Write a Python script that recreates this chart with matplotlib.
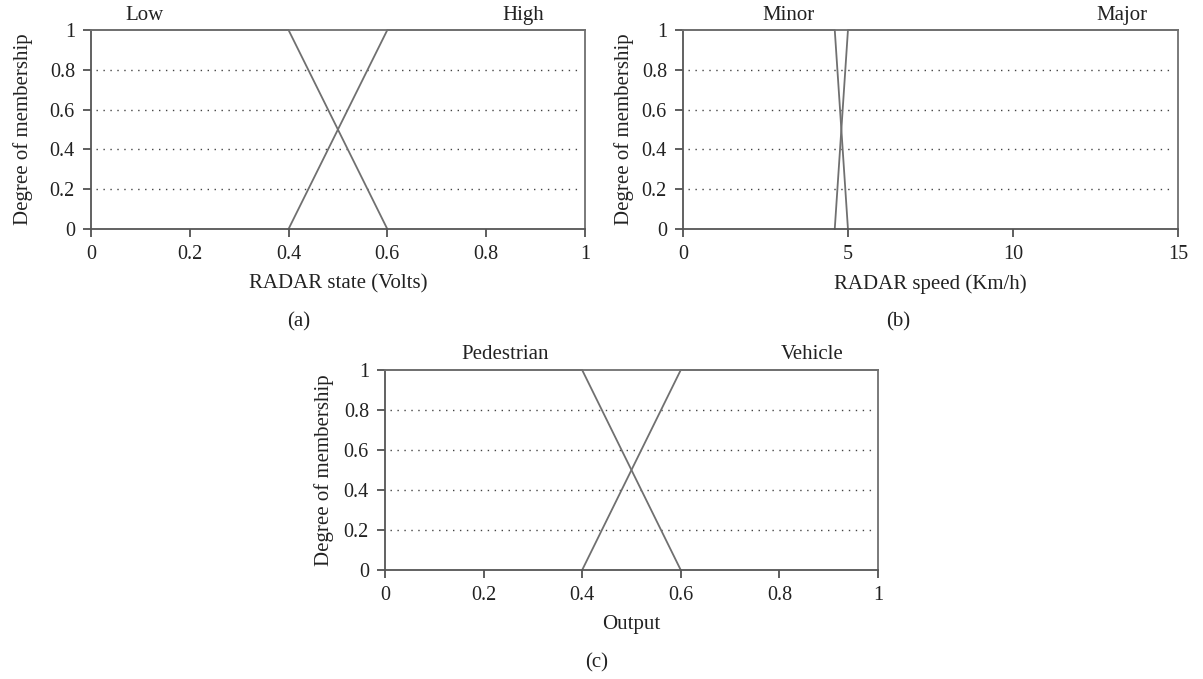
import matplotlib
matplotlib.use('Agg')
import matplotlib.pyplot as plt

# membership functions (x points, degree)
state_low_x = [0, 0.4, 0.6]
state_low_y = [1, 1, 0]
state_high_x = [0.4, 0.6, 1]
state_high_y = [0, 1, 1]

speed_minor_x = [0, 4.6, 5.0]
speed_minor_y = [1, 1, 0]
speed_major_x = [4.6, 5.0, 15]
speed_major_y = [0, 1, 1]

out_ped_x = [0, 0.4, 0.6]
out_ped_y = [1, 1, 0]
out_veh_x = [0.4, 0.6, 1]
out_veh_y = [0, 1, 1]

y_ticks = [0, 0.2, 0.4, 0.6, 0.8, 1]
y_labels = ['0', '0.2', '0.4', '0.6', '0.8', '1']
unit_ticks = [0, 0.2, 0.4, 0.6, 0.8, 1]
unit_labels = ['0', '0.2', '0.4', '0.6', '0.8', '1']
speed_ticks = [0, 5, 10, 15]
speed_labels = ['0', '5', '10', '15']

plt.rcParams['font.family'] = ['Liberation Serif', 'DejaVu Serif']

line_c = '#707070'
fig = plt.figure(figsize=(12.03, 6.79), dpi=100)


def panel(rect, xs, ys, names, name_pos, xlim, xticks, xlabels, xlabel, tag,
          ylab_x, tag_x):
    ax = fig.add_axes(rect)
    # dotted guide lines at the inner y ticks
    for y in y_ticks[1:-1]:
        ax.axhline(y, xmin=0.01, xmax=0.99, color='#444444', lw=1.0,
                   ls=(0, (1, 4)), zorder=1)
    for x, y in zip(xs, ys):
        ax.plot(x, y, color=line_c, lw=1.3, zorder=2, clip_on=False)
    ax.set_xlim(xlim)
    ax.set_ylim(0, 1)
    ax.set_xticks(xticks)
    ax.set_xticklabels(xlabels)
    ax.set_yticks(y_ticks)
    ax.set_yticklabels(y_labels)
    for s in ax.spines.values():
        s.set_color(line_c)
        s.set_linewidth(1.3)
    ax.spines['left'].set_color('#555555')
    ax.spines['bottom'].set_color('#555555')
    ax.tick_params(axis='both', color='#333333', length=5.5, width=1.1,
                   labelsize=14.5, labelcolor='#222222', pad=6)
    ax.set_xlabel(xlabel, fontsize=15, color='#222222', va='top')
    ax.xaxis.set_label_coords(0.5, -0.225)
    ax.set_ylabel('Degree of membership', fontsize=15, color='#222222')
    ax.yaxis.set_label_coords(ylab_x, 0.5)
    for n, p in zip(names, name_pos):
        ax.text(p, 1.075, n, ha='center', va='center', fontsize=15,
                color='#222222', transform=ax.get_xaxis_transform())
    ax.text(tag_x, -0.465, tag, ha='center', va='center', fontsize=15,
            color='#222222', transform=ax.transAxes)
    return ax


panel([0.0756, 0.6627, 0.4106, 0.2931],
      [state_low_x, state_high_x], [state_low_y, state_high_y],
      ['Low', 'High'], [0.109, 0.875], (0, 1), unit_ticks, unit_labels,
      'RADAR state (Volts)', '(a)', -0.118, 0.42)

panel([0.5677, 0.6627, 0.4115, 0.2931],
      [speed_minor_x, speed_major_x], [speed_minor_y, speed_major_y],
      ['Minor', 'Major'], [3.2, 13.3], (0, 15), speed_ticks, speed_labels,
      'RADAR speed (Km/h)', '(b)', -0.098, 0.435)

panel([0.3200, 0.1605, 0.4098, 0.2946],
      [out_ped_x, out_veh_x], [out_ped_y, out_veh_y],
      ['Pedestrian', 'Vehicle'], [0.243, 0.866], (0, 1), unit_ticks, unit_labels,
      'Output', '(c)', -0.103, 0.43)

fig.savefig('out.png', dpi=100)
